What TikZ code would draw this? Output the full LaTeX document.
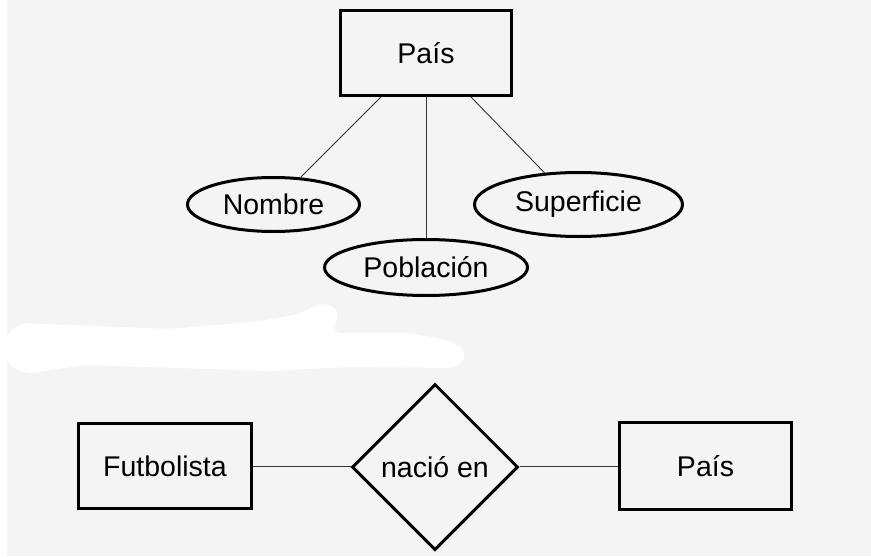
\documentclass[tikz,border=0pt]{standalone}
\usepackage{fontspec}
\setmainfont{Liberation Sans}
\usetikzlibrary{shapes.geometric}
\definecolor{bggray}{RGB}{244,244,244}
\begin{document}
\begin{tikzpicture}[x=1pt,y=-1pt,
  every node/.style={font=\fontsize{28.5}{34}\selectfont, inner sep=0pt},
  entity/.style={draw, line width=3pt, rectangle, minimum width=#1, minimum height=85pt},
  attr/.style={draw, line width=3pt, ellipse},
  rel/.style={draw, line width=3pt, diamond, minimum width=166pt, minimum height=166pt},
  link/.style={line width=0.9pt, draw=black!80}]
\useasboundingbox (0,0) rectangle (871,557);
\fill[white] (0,0) rectangle (871,557);
\fill[bggray] (7,0) rectangle (871,556);
% scribbled-out area
\fill[white, rounded corners=9pt] (5,336) -- (20,323) -- (170,329) -- (260,321) -- (300,314) -- (322,302) -- (340,310) -- (332,333) -- (410,333) -- (455,342) -- (468,355) -- (456,368) -- (350,367) -- (270,371) -- (85,365) -- (25,374) -- (5,362) -- cycle;
% top part
\node[entity=171pt] (pais) at (426,53) {País};
\node[attr, minimum width=172pt, minimum height=54pt] (nombre) at (273.5,204.5) {Nombre};
\node[attr, minimum width=203pt, minimum height=56pt] (poblacion) at (426,267.5) {Población};
\node[attr, minimum width=208pt, minimum height=64pt] (superficie) at (578.5,204.5) {Superficie};
\draw[link] ([xshift=-45pt]pais.south) -- (nombre.45);
\draw[link] (pais.south) -- (poblacion.north);
\draw[link] ([xshift=45pt]pais.south) -- (superficie.137);
% bottom part
\node[entity=173pt] (futbolista) at (165,466) {Futbolista};
\node[rel] (nacio) at (435,467) {nació en};
\node[entity=172pt, minimum height=87pt] (pais2) at (705.5,466) {País};
\draw[link] (futbolista.east) -- (futbolista.east -| nacio.west);
\draw[link] (nacio.east |- pais2.west) -- (pais2.west);
\end{tikzpicture}
\end{document}
